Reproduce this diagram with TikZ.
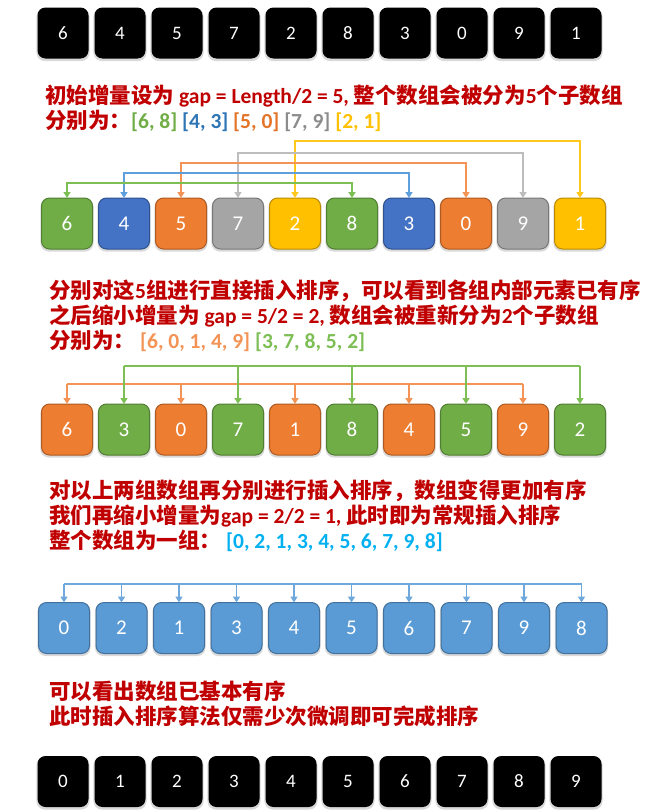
\documentclass[tikz,border=0pt]{standalone}
\usepackage{xcolor}
\usepackage{fontspec}
\setmainfont{Carlito}
\newfontfamily\cjk{Noto Sans CJK SC}
\usepackage{tikz}
\usetikzlibrary{positioning,shadows,arrows.meta}

\definecolor{txtred}{HTML}{C00000}
\definecolor{grnF}{HTML}{70AD47}
\definecolor{grnD}{HTML}{507E32}
\definecolor{grnL}{HTML}{7DBE55}
\definecolor{bluF}{HTML}{4472C4}
\definecolor{bluD}{HTML}{2F528F}
\definecolor{bluL}{HTML}{5FA0DC}
\definecolor{orgF}{HTML}{ED7D31}
\definecolor{orgD}{HTML}{AE5A21}
\definecolor{orgL}{HTML}{F39456}
\definecolor{gryF}{HTML}{A5A5A5}
\definecolor{gryD}{HTML}{787878}
\definecolor{gryL}{HTML}{BDBDBD}
\definecolor{ylwF}{HTML}{FFC000}
\definecolor{ylwD}{HTML}{BC8C00}
\definecolor{ylwL}{HTML}{FFC81E}
\definecolor{lbuF}{HTML}{5B9BD5}
\definecolor{lbuD}{HTML}{41719C}
\definecolor{lbuL}{HTML}{6FA8DC}
\definecolor{bluT}{HTML}{2E75B6}
\definecolor{orgT}{HTML}{E47528}
\definecolor{gryT}{HTML}{8C8C8C}
\definecolor{cynT}{HTML}{00B0F0}

\newcommand\lat[1]{{\rmfamily #1}}

\begin{document}
\begin{tikzpicture}[
    x=1pt, y=-1pt,
    node distance=6pt,
    cell/.style={rectangle, rounded corners=8pt, minimum width=51pt, minimum height=51pt, inner sep=0pt, outer sep=0pt, text=white, font=\fontsize{21}{21}\selectfont, drop shadow={shadow xshift=0pt, shadow yshift=-1.5pt, shadow scale=1.04, opacity=0.3}},
    blk/.style={cell, fill=black, font=\fontsize{19}{19}\selectfont},
    grn/.style={cell, fill=grnF, draw=grnD, line width=1pt},
    blu/.style={cell, fill=bluF, draw=bluD, line width=1pt},
    org/.style={cell, fill=orgF, draw=orgD, line width=1pt},
    gry/.style={cell, fill=gryF, draw=gryD, line width=1pt},
    ylw/.style={cell, fill=ylwF, draw=ylwD, line width=1pt},
    lbu/.style={cell, fill=lbuF, draw=lbuD, line width=1pt},
    note/.style={anchor=west, align=left, inner sep=0pt, text=txtred, font=\cjk\bfseries\fontsize{21.5}{25}\selectfont},
    link/.style={{Triangle[length=6pt,width=7pt]}-{Triangle[length=6pt,width=7pt]}, line width=1.6pt},
    arrow/.style={-{Triangle[length=6pt,width=7pt]}, line width=1.6pt},
    bar/.style={line width=1.6pt}
]
    \useasboundingbox (0,0) rectangle (648,811);

    % Original array
    \node[blk] (src0) at (63,33) {6};
    \node[blk, right=of src0] (src1) {4};
    \node[blk, right=of src1] (src2) {5};
    \node[blk, right=of src2] (src3) {7};
    \node[blk, right=of src3] (src4) {2};
    \node[blk, right=of src4] (src5) {8};
    \node[blk, right=of src5] (src6) {3};
    \node[blk, right=of src6] (src7) {0};
    \node[blk, right=of src7] (src8) {9};
    \node[blk, right=of src8] (src9) {1};

    \node[note] (txtA) at (45,108) {初始增量设为 \lat{gap = Length/2 = 5,} 整个数组会被分为\lat{5}个子数组\\
    分别为：\lat{\textcolor{grnF}{[6, 8]} \textcolor{bluT}{[4, 3]} \textcolor{orgT}{[5, 0]} \textcolor{gryT}{[7, 9]} \textcolor{ylwF}{[2, 1]}}};

    % gap = 5
    \node[grn] (five0) at (67,223.5) {6};
    \node[blu, right=of five0] (five1) {4};
    \node[org, right=of five1] (five2) {5};
    \node[gry, right=of five2] (five3) {7};
    \node[ylw, right=of five3] (five4) {2};
    \node[grn, right=of five4] (five5) {8};
    \node[blu, right=of five5] (five6) {3};
    \node[org, right=of five6] (five7) {0};
    \node[gry, right=of five7] (five8) {9};
    \node[ylw, right=of five8] (five9) {1};

    \coordinate (lvlG) at (0,183);
    \coordinate (lvlB) at (0,173);
    \coordinate (lvlO) at (0,163);
    \coordinate (lvlS) at (0,153);
    \coordinate (lvlY) at (0,141);

    \draw[link, ylwL] (five4.north) -- (five4.north |- lvlY) -- (five9.north |- lvlY) -- (five9.north);
    \draw[link, gryL] (five3.north) -- (five3.north |- lvlS) -- (five8.north |- lvlS) -- (five8.north);
    \draw[link, orgL] (five2.north) -- (five2.north |- lvlO) -- (five7.north |- lvlO) -- (five7.north);
    \draw[link, bluL] (five1.north) -- (five1.north |- lvlB) -- (five6.north |- lvlB) -- (five6.north);
    \draw[link, grnL] (five0.north) -- (five0.north |- lvlG) -- (five5.north |- lvlG) -- (five5.north);

    \node[note] (txtB) at (49,316) {分别对这\lat{5}组进行直接插入排序，可以看到各组内部元素已有序\\
    之后缩小增量为 \lat{gap = 5/2 = 2,} 数组会被重新分为\lat{2}个子数组\\
    分别为：\ \lat{\textcolor{orgL}{[6, 0, 1, 4, 9]} \textcolor{grnL}{[3, 7, 8, 5, 2]}}};

    % gap = 2
    \node[org] (two0) at (67,429.5) {6};
    \node[grn, right=of two0] (two1) {3};
    \node[org, right=of two1] (two2) {0};
    \node[grn, right=of two2] (two3) {7};
    \node[org, right=of two3] (two4) {1};
    \node[grn, right=of two4] (two5) {8};
    \node[org, right=of two5] (two6) {4};
    \node[grn, right=of two6] (two7) {5};
    \node[org, right=of two7] (two8) {9};
    \node[grn, right=of two8] (two9) {2};

    \coordinate (lvlTwoO) at (0,384);
    \coordinate (lvlTwoG) at (0,366);

    \draw[bar, orgL] (two0.north |- lvlTwoO) -- (two8.north |- lvlTwoO);
    \draw[arrow, orgL] (two0.north |- lvlTwoO) -- (two0.north);
    \draw[arrow, orgL] (two2.north |- lvlTwoO) -- (two2.north);
    \draw[arrow, orgL] (two4.north |- lvlTwoO) -- (two4.north);
    \draw[arrow, orgL] (two6.north |- lvlTwoO) -- (two6.north);
    \draw[arrow, orgL] (two8.north |- lvlTwoO) -- (two8.north);

    \draw[bar, grnL] (two1.north |- lvlTwoG) -- (two9.north |- lvlTwoG);
    \draw[arrow, grnL] (two1.north |- lvlTwoG) -- (two1.north);
    \draw[arrow, grnL] (two3.north |- lvlTwoG) -- (two3.north);
    \draw[arrow, grnL] (two5.north |- lvlTwoG) -- (two5.north);
    \draw[arrow, grnL] (two7.north |- lvlTwoG) -- (two7.north);
    \draw[arrow, grnL] (two9.north |- lvlTwoG) -- (two9.north);

    \node[note] (txtC) at (49,516) {对以上两组数组再分别进行插入排序，数组变得更加有序\\
    我们再缩小增量为\lat{gap = 2/2 = 1,} 此时即为常规插入排序\\
    整个数组为一组：\ \lat{\textcolor{cynT}{[0, 2, 1, 3, 4, 5, 6, 7, 9, 8]}}};

    % gap = 1
    \node[lbu] (one0) at (64,628) {0};
    \node[lbu, right=6.5pt of one0] (one1) {2};
    \node[lbu, right=6.5pt of one1] (one2) {1};
    \node[lbu, right=6.5pt of one2] (one3) {3};
    \node[lbu, right=6.5pt of one3] (one4) {4};
    \node[lbu, right=6.5pt of one4] (one5) {5};
    \node[lbu, right=6.5pt of one5] (one6) {6};
    \node[lbu, right=6.5pt of one6] (one7) {7};
    \node[lbu, right=6.5pt of one7] (one8) {9};
    \node[lbu, right=6.5pt of one8] (one9) {8};

    \coordinate (lvlOne) at (0,584);

    \draw[bar, lbuL] (one0.north |- lvlOne) -- (one9.north |- lvlOne);
    \draw[arrow, lbuL] (one0.north |- lvlOne) -- (one0.north);
    \draw[arrow, lbuL] (one1.north |- lvlOne) -- (one1.north);
    \draw[arrow, lbuL] (one2.north |- lvlOne) -- (one2.north);
    \draw[arrow, lbuL] (one3.north |- lvlOne) -- (one3.north);
    \draw[arrow, lbuL] (one4.north |- lvlOne) -- (one4.north);
    \draw[arrow, lbuL] (one5.north |- lvlOne) -- (one5.north);
    \draw[arrow, lbuL] (one6.north |- lvlOne) -- (one6.north);
    \draw[arrow, lbuL] (one7.north |- lvlOne) -- (one7.north);
    \draw[arrow, lbuL] (one8.north |- lvlOne) -- (one8.north);
    \draw[arrow, lbuL] (one9.north |- lvlOne) -- (one9.north);

    \node[note] (txtD) at (49,703.5) {可以看出数组已基本有序\\
    此时插入排序算法仅需少次微调即可完成排序};

    % Sorted array
    \node[blk] (out0) at (63,781.5) {0};
    \node[blk, right=of out0] (out1) {1};
    \node[blk, right=of out1] (out2) {2};
    \node[blk, right=of out2] (out3) {3};
    \node[blk, right=of out3] (out4) {4};
    \node[blk, right=of out4] (out5) {5};
    \node[blk, right=of out5] (out6) {6};
    \node[blk, right=of out6] (out7) {7};
    \node[blk, right=of out7] (out8) {8};
    \node[blk, right=of out8] (out9) {9};
\end{tikzpicture}
\end{document}
